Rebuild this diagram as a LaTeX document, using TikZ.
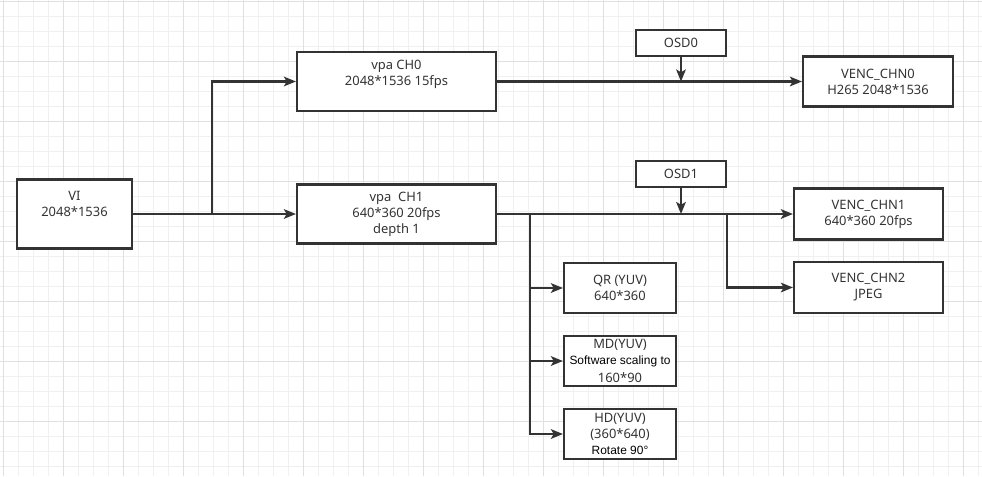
\documentclass[tikz,border=0pt]{standalone}
\usepackage{xcolor}
\usepackage{fontspec}
\setmainfont{Noto Sans}
\newfontfamily\arialfont{Liberation Sans}
\usepackage{tikz}
\usetikzlibrary{positioning,arrows.meta}

\definecolor{inkgray}{HTML}{333333}
\definecolor{gridminor}{HTML}{F0F0F0}
\definecolor{gridmajor}{HTML}{E0E0E0}
\newcommand{\plaintext}{\color{black}\arialfont\fontsize{8.5}{10.5}\selectfont}

\tikzset{
  box/.style={draw=inkgray, line width=1.5pt, fill=white, align=center,
    text=inkgray, font=\fontsize{9.2}{11.4}\selectfont, inner sep=0pt},
  osdbox/.style={box, minimum width=2.25cm, minimum height=0.65cm},
  vpabox/.style={box, minimum width=4.975cm, minimum height=1.475cm},
  vencbox/.style={box, minimum width=3.725cm, minimum height=1.275cm},
  algobox/.style={box, minimum width=2.8cm, minimum height=1.25cm},
  link/.style={draw=inkgray, line width=1.5pt,
    -{Stealth[length=0.3cm, width=0.24cm, inset=0.07cm]}}
}

\begin{document}
\begin{tikzpicture}[x=0.025cm, y=-0.025cm]
\useasboundingbox (0,0) rectangle (982,476);
\fill[white] (0,0) rectangle (982,476);

% background grid
\foreach \gx in {3.3,18.3,...,982} {
  \draw[gridminor, line width=0.7pt] (\gx,0) -- (\gx,476);
}
\foreach \gy in {1,16,...,476} {
  \draw[gridminor, line width=0.7pt] (0,\gy) -- (982,\gy);
}
\foreach \gx in {3.3,63.3,...,982} {
  \draw[gridmajor, line width=0.7pt] (\gx,0) -- (\gx,476);
}
\foreach \gy in {1,61,...,476} {
  \draw[gridmajor, line width=0.7pt] (0,\gy) -- (982,\gy);
}

% input and vpa channels
\node[box, minimum width=2.875cm, minimum height=1.725cm,
  label={[align=center, text=inkgray, font=\fontsize{9.2}{11.4}\selectfont, yshift=0.24cm]center:{VI\\2048*1536}}]
  (vi) at (74.5,214) {};
\node[vpabox, label={[align=center, text=inkgray, font=\fontsize{9.2}{11.4}\selectfont, yshift=0.19cm]center:{vpa CH0\\2048*1536 15fps}}]
  (ch0) at (396.5,81.5) {};
\node[vpabox] (ch1) at (396.5,214) {vpa\ \ CH1\\640*360 20fps\\depth 1};

% osd overlays
\node[osdbox] (osd0) at (681,43) {OSD0};
\node[osdbox] (osd1) at (681,174) {OSD1};

% encoders
\node[box, minimum width=3.75cm, minimum height=1.25cm] (venc0) at (878,81.5) {VENC\_CHN0\\H265 2048*1536};
\node[vencbox] (venc1) at (868.5,214) {VENC\_CHN1\\640*360 20fps};
\node[vencbox] (venc2) at (868.5,287.5) {VENC\_CHN2\\JPEG};

% yuv consumers
\node[algobox] (qr) at (620,288) {QR (YUV)\\640*360};
\node[algobox] (md) at (620,361) {MD(YUV)\\{\plaintext Software scaling to}\\[1pt]160*90};
\node[algobox] (hd) at (620,434) {HD(YUV)\\(360*640)\\{\plaintext Rotate 90°}};

\coordinate (split0) at (212,214);
\coordinate (split1) at (530,214);
\coordinate (split2) at (727,214);

\draw[link] (vi.east) -- (ch1.west);
\draw[link] (split0) |- (ch0.west);
\draw[link] (ch0.east) -- (venc0.west);
\draw[link] (osd0.south) -- (osd0.south |- ch0.east);
\draw[link] (ch1.east) -- (venc1.west);
\draw[link] (osd1.south) -- (osd1.south |- ch1.east);
\draw[link] (split2) |- (venc2.west);
\draw[link] (split1) |- (qr.west);
\draw[link] (split1) |- (md.west);
\draw[link] (split1) |- (hd.west);

\end{tikzpicture}
\end{document}
